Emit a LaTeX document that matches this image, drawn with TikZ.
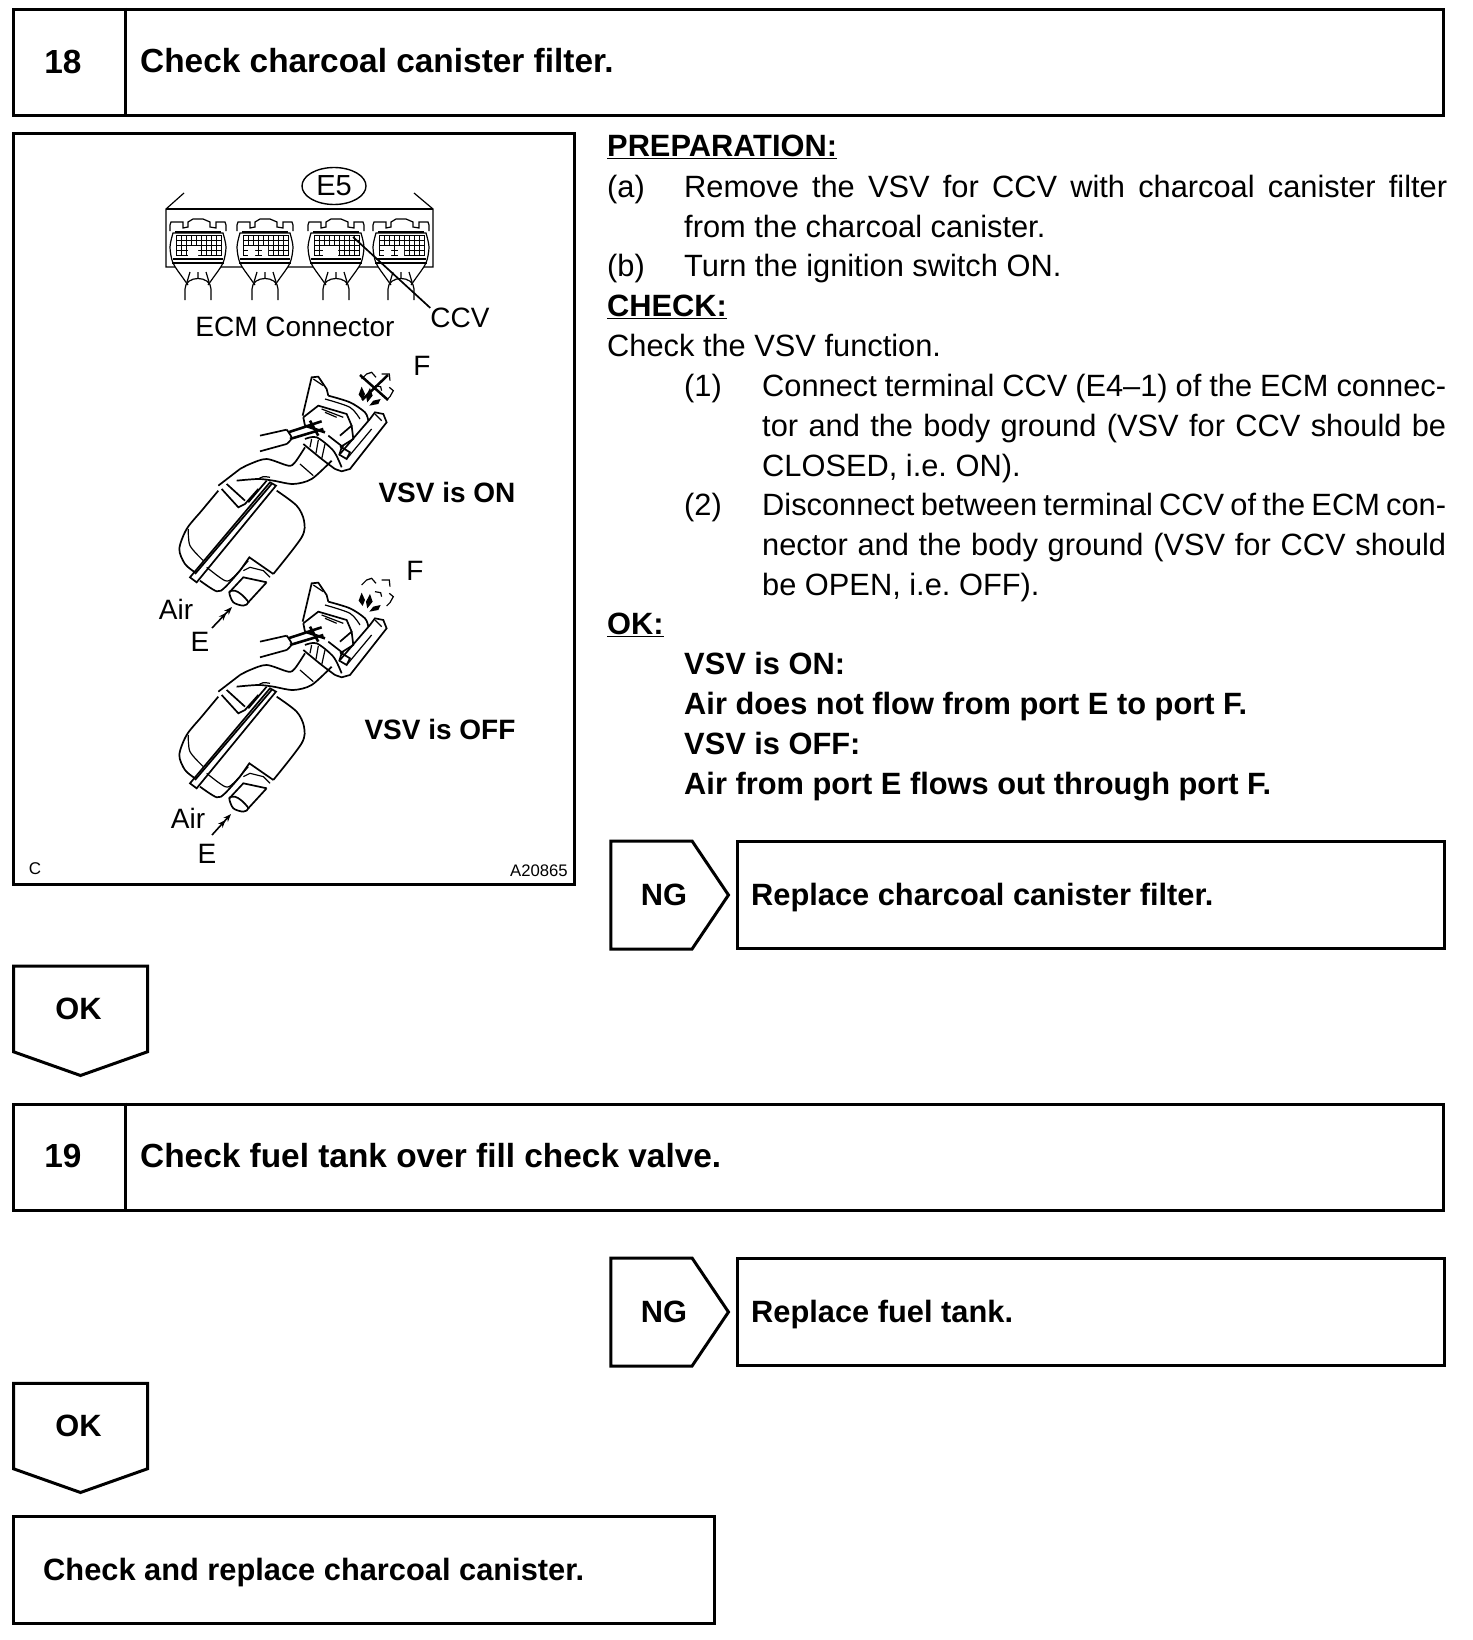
\documentclass[tikz,border=0pt]{standalone}
\usepackage{fontspec}
\setmainfont{Liberation Sans}
\usetikzlibrary{positioning,arrows.meta,shapes.geometric,shapes.symbols}

\newcommand{\bodyfont}{\fontsize{30.8}{40}\selectfont}
\newcommand{\titlefont}{\fontsize{33.4}{40}\selectfont\bfseries}
\tikzset{
  titlebox/.style={draw, line width=3pt, anchor=north west, minimum height=106pt, inner sep=0pt},
  titletxt/.style={font=\titlefont, inner sep=0pt},
  boldtxt/.style={font=\bodyfont\bfseries, anchor=west, inner sep=0pt},
  para/.style={anchor=north west, inner sep=0pt, font=\bodyfont, align=justify, execute at begin node=\strut, execute at end node=\strut},
  line/.style={para, align=left},
  ngtag/.style={draw, line width=3pt, shape=signal, signal to=east, signal pointer angle=112, minimum width=117.5pt, minimum height=108pt, inner sep=0pt, font=\bodyfont\bfseries},
  oktag/.style={draw, line width=3pt, shape=signal, signal to=south, signal pointer angle=141, minimum width=134pt, minimum height=93pt, inner sep=0pt, font=\bodyfont\bfseries},
  lab/.style={inner sep=0pt, font=\fontsize{28}{32}\selectfont},
  vsvlab/.style={inner sep=0pt, font=\fontsize{28}{30}\selectfont\bfseries},
  thin line/.style={line width=1.2pt},
  heavy line/.style={line width=1.7pt},
  air/.style={line width=1.6pt, -{Stealth[length=8pt,width=6pt]Stealth[length=8pt,width=6pt]}},
  ecmplug/.pic={
    \draw[thin line, fill=white] plot[smooth] coordinates {(-10,76) (-15,69) (-25,54) (-28,38) (-25,24)} -- plot[smooth] coordinates {(25,24) (28,38) (25,54) (15,69) (10,76)};
    \draw[thin line] (-28,22) -- (-28,16) -- (-27,13) -- (-15,13) -- (-15,19) -- (-10,18) -- (-10,13) -- (-5,10) -- (5,10) -- (12,13) -- (12,18) -- (18,19) -- (18,13) -- (27,13) -- (28,16) -- (28,22);
    \draw[thin line] (-23,23) -- (23,23) (-25,50) -- (25,50) (-26,54) -- (26,54);
    \foreach \i in {-22,-17,...,23} \draw[line width=1pt] (\i,26) -- (\i,47);
    \foreach \j in {26,31,...,46} \draw[line width=1pt] (-22,\j) -- (23,\j);
    \fill[white] (\ga,37) rectangle (\gb,48) (\gc,37) rectangle (\gd,48);
    \draw[thin line] (-13,91) -- (-13,80) .. controls (-13,66) and (13,66) .. (13,80) -- (13,91);
    \draw[thin line] (-8,63) -- (-11,73) (8,63) -- (11,73) (0,63) -- (0,69);
  },
  vsvunit/.pic={
    % canister
    \begin{scope}[shift={(90,480)}]
      \draw[heavy line] plot[smooth] coordinates {(145,50) (95,110) (50,165) (28,225) (45,270) (75,295)};
      \draw[heavy line] plot[smooth] coordinates {(320,50) (380,95) (402,140) (395,190) (310,300)};
      \draw[heavy line] (60,310) -- (300,25) -- (318,35) -- (80,325) -- cycle;
      \draw[heavy line] (75,300) -- (305,30);
      \draw[thin line] plot[smooth] coordinates {(55,165) (60,215) (100,260)};
      \draw[heavy line] plot[smooth] coordinates {(90,320) (140,352) (165,340) (210,290)};
      \draw[heavy line] (210,290) -- (238,250) -- (310,300);
      \draw[thin line] plot[smooth] coordinates {(110,280) (165,320) (190,310) (235,260)};
      \draw[thin line] (220,290) -- (240,280) -- (280,290) -- (300,310);
      % tube
      \draw[heavy line] (178,355) -- (220,310) -- (290,325) (235,385) -- (290,325);
      \draw[heavy line] plot[smooth cycle] coordinates {(178,355) (190,385) (220,395) (235,385) (215,362) (195,350)};
      % cuff
      \draw[heavy line] (155,45) -- (205,100) -- (225,90) -- (265,45);
      \draw[heavy line] (170,30) -- (225,80);
      \draw[heavy line] (235,85) -- (290,20);
      \draw[thin line] plot[smooth] coordinates {(265,15) (280,8) (300,10)};
    \end{scope}
    % valve and hose
    \begin{scope}[shift={(330,150)}]
      \draw[heavy line] (-95,365) -- (-30,315);
      \draw[heavy line] plot[smooth] coordinates {(-30,315) (0,300) (50,285) (115,305) (135,295) (165,250)};
      \draw[heavy line] plot[smooth] coordinates {(-40,350) (25,345) (70,350) (130,360) (185,345) (245,290)};
      \draw[thin line] (150,300) -- (190,335);
      \draw[heavy line] (158,155) -- (185,40) -- (205,38) -- (230,75) -- (235,95);
      \draw[thin line] (190,45) -- (220,65);
      \draw[heavy line] plot[smooth] coordinates {(235,95) (300,115) (345,145) (355,170)};
      \draw[thin line] plot[smooth] coordinates {(225,105) (300,130) (330,165)};
      \draw[heavy line] (160,160) -- (205,125) -- (290,150) -- (305,185) -- (270,215);
      \draw[thin line] (215,135) -- (280,160) (225,145) -- (260,160);
      \draw[heavy line] (160,160) -- (165,185) (235,215) -- (280,250) (305,185) -- (310,225) -- (270,250);
      % wires
      \draw[heavy line] (30,215) -- (110,197) (30,262) -- (110,240);
      \draw[heavy line] plot[smooth] coordinates {(110,197) (125,222) (110,240)};
      \draw[line width=2.6pt] (115,205) -- (215,172) (120,225) -- (220,195) (165,185) -- (225,205) (180,170) -- (205,215);
      % ring
      \draw[heavy line] plot[smooth] coordinates {(165,225) (200,220) (250,260) (275,310)};
      \draw[heavy line] plot[smooth] coordinates {(160,240) (215,285) (255,315)};
      \draw[thin line] (185,225) -- (180,250) (205,228) -- (198,268) (225,240) -- (215,285);
      % cylinder
      \draw[heavy line] (255,315) -- (275,322) -- (300,315) -- (410,175) -- (400,150) -- (375,145) -- (360,165) -- (270,270);
      \draw[thin line] (375,150) -- (395,170) (365,195) -- (290,285);
      \draw[heavy line] (275,250) -- (300,265) -- (290,285) -- (268,272) -- cycle;
    \end{scope}
  },
  puffs/.pic={
    \begin{scope}[shift={(330,150)}]
      \fill (335,68) -- (345,90) -- (338,108) -- (326,92) -- cycle;
      \fill (360,72) -- (368,95) -- (352,115) -- (348,95) -- cycle;
      \fill (392,105) -- (385,120) -- (358,125) -- (370,110) -- cycle;
      \draw[thin line] (335,45) -- (350,30) -- (365,25) -- (378,40);
      \draw[thin line] (395,30) -- (418,30) -- (420,50);
      \draw[thin line] (375,65) -- (392,68) -- (395,80);
      \draw[thin line] (418,70) -- (430,80) -- (420,98) -- (410,108);
    \end{scope}
  }
}

\begin{document}
\begin{tikzpicture}[x=1pt, y=-1pt]
\useasboundingbox (0,0) rectangle (1472,1640);

% step 18
\node[titlebox, minimum width=1430pt] (box18) at (12,8) {};
\draw[line width=3pt] (125.5,8) -- (125.5,114);
\node[titletxt] (num18) at (63,62) {18};
\node[titletxt, anchor=west] (title18) at (140,61) {Check charcoal canister filter.};

% picture frame
\node[draw, line width=3pt, anchor=north west, minimum width=561pt, minimum height=751pt, inner sep=0pt] (panel) at (12,132) {};
\node[draw, line width=1.4pt, ellipse, minimum width=64pt, minimum height=37pt, inner sep=0pt, font=\fontsize{29}{32}\selectfont] (e5) at (334,186) {E5};
\draw[line width=1.8pt] (166,209) -- (433,209);
\draw[thin line] (184,193) -- (166,209) -- (166,267) -- (433,267) -- (433,209) -- (414,193);
\foreach \cx/\ga/\gb/\gc/\gd in {198/-10/0/0/0, 265/-17/-10/-3/3, 336/-13/2/0/0, 401/-17/-10/-3/3}
  \pic at (\cx,209) {ecmplug};
\node[lab] (ecm) at (295,327) {ECM Connector};
\node[lab] (ccv) at (460,318) {CCV};
\coordinate (ccvpin) at (353,237);
\draw[heavy line] (ccvpin) -- (ccv.north west);

% valve is on
\pic[shift={(140,314)},scale=0.3333] {vsvunit};
\pic[shift={(140,314)},scale=0.3333] {puffs};
\node[lab] (fon) at (422,366) {F};
\node[vsvlab] (vsvon) at (447,492) {VSV is ON};
\node[lab] (airon) at (176,609) {Air};
\node[lab] (eon) at (200,642) {E};
\coordinate (aironb) at (212,628);
\coordinate (airona) at (232,607);
\draw[air] (aironb) -- (airona);
\draw[line width=2.5pt] (360,375) -- (388,400) (388,375) -- (362,400);

% valve is off
\pic[shift={(140,520)},scale=0.3333] {vsvunit};
\pic[shift={(140,520)},scale=0.3333] {puffs};
\node[lab] (foff) at (415,571) {F};
\node[vsvlab] (vsvoff) at (440,729) {VSV is OFF};
\node[lab] (airoff) at (188,818) {Air};
\node[lab] (eoff) at (207,854) {E};
\coordinate (airoffb) at (212,835);
\coordinate (airoffa) at (231,814);
\draw[air] (airoffb) -- (airoffa);

\node[inner sep=0pt, font=\fontsize{17}{20}\selectfont] (cmark) at (35,869) {C};
\node[inner sep=0pt, font=\fontsize{16.7}{20}\selectfont] (code) at (539,871) {A20865};

% right column
\node[line] (prep) at (607,128.5) {\bfseries\underline{PREPARATION:}};
\node[line, below=0pt of prep.south west, anchor=north west] (la) {(a)};
\node[para, text width=763pt, right=77pt of la.north west, anchor=north west] (ta) {Remove the VSV for CCV with charcoal canister filter from the charcoal canister.};
\node[line, below=39pt of la.south west, anchor=north west] (lb) {(b)};
\node[line, right=77pt of lb.north west, anchor=north west] (tb) {Turn the ignition switch ON.};
\node[line, below=0pt of lb.south west, anchor=north west] (chk) {\bfseries\underline{CHECK:}};
\node[line, below=-1pt of chk.south west, anchor=north west] (fn) {Check the VSV function.};
\node[line, below=0pt of fn.south west, anchor=north west, xshift=77pt] (l1) {(1)};
\node[para, text width=684pt, right=78pt of l1.north west, anchor=north west] (t1) {Connect terminal CCV (E4--1) of the ECM connec-\linebreak tor and the body ground (VSV for CCV should be CLOSED, i.e.\ ON).};
\node[line, below=78pt of l1.south west, anchor=north west] (l2) {(2)};
\node[para, text width=684pt, right=78pt of l2.north west, anchor=north west] (t2) {Disconnect between terminal CCV of the ECM con-\linebreak nector and the body ground (VSV for CCV should be OPEN, i.e.\ OFF).};
\node[line] (okh) at (607,606) {\bfseries\underline{OK:}};
\node[line, font=\bodyfont\bfseries, anchor=north west] (okt) at (684,651.5) {VSV is ON:\\[0pt]Air does not flow from port E to port F.\\[0pt]VSV is OFF:\\[0pt]Air from port E flows out through port F.};

% NG 18
\node[ngtag] (ng18) at (651.5,895) {\hspace*{25pt}NG};
\node[titlebox, minimum width=707pt, minimum height=107pt] (rep18) at (736,840) {};
\node[boldtxt] (rep18t) at (751,898) {Replace charcoal canister filter.};

% OK 18
\node[oktag] (ok18) at (80.5,1009) {\hspace*{-4pt}OK};

% step 19
\node[titlebox, minimum width=1430pt] (box19) at (12,1102.5) {};
\draw[line width=3pt] (125.5,1102.5) -- (125.5,1208.5);
\node[titletxt] (num19) at (63,1156) {19};
\node[titletxt, anchor=west] (title19) at (140,1156) {Check fuel tank over fill check valve.};

% NG 19
\node[ngtag] (ng19) at (651.5,1312) {\hspace*{25pt}NG};
\node[titlebox, minimum width=707pt, minimum height=107pt] (rep19) at (736,1257) {};
\node[boldtxt] (rep19t) at (751,1315) {Replace fuel tank.};

% OK 19
\node[oktag] (ok19) at (80.5,1426) {\hspace*{-4pt}OK};

% last box
\node[titlebox, minimum width=701pt, minimum height=107pt] (last) at (12,1515) {};
\node[boldtxt] (lastt) at (43,1573) {Check and replace charcoal canister.};
\end{tikzpicture}
\end{document}
